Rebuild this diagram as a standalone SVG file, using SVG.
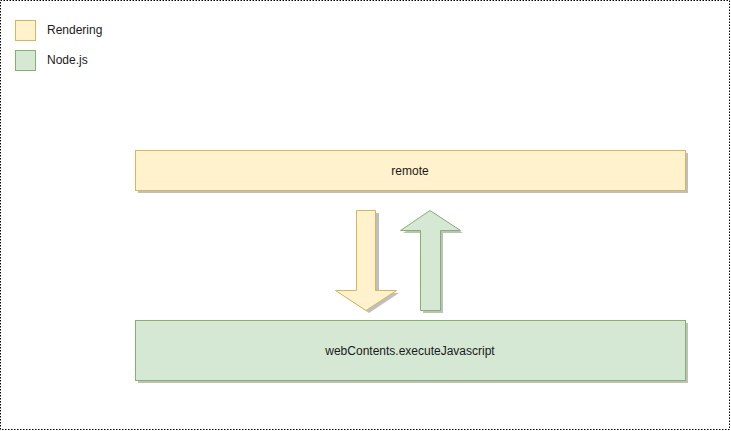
<svg xmlns="http://www.w3.org/2000/svg" width="731" height="431" viewBox="0 0 731 431">
<style>
.y{fill:#fff2cc;stroke:#d6b656;stroke-width:1}
.g{fill:#d5e8d4;stroke:#82b366;stroke-width:1}
.sh{fill:#000;opacity:0.25}
text{font-family:"Liberation Sans",Arial,sans-serif;font-size:12px;fill:#1a1a1a}
.c{text-anchor:middle}
</style>
<rect x="0.5" y="0.5" width="729" height="429" fill="#fff" stroke="#000" stroke-width="1" stroke-dasharray="1.5,1.5"/>
<g id="legend-rendering">
<rect class="y" x="15.5" y="20.5" width="20" height="20"/>
<text x="47" y="34">Rendering</text>
</g>
<g id="legend-node">
<rect class="g" x="15.5" y="50.5" width="20" height="20"/>
<text x="47" y="64">Node.js</text>
</g>
<g id="remote">
<rect class="sh" x="138" y="153" width="550" height="40"/>
<rect class="y" x="135.5" y="150.5" width="550" height="40"/>
<text class="c" x="410" y="175">remote</text>
</g>
<g id="webcontents">
<rect class="sh" x="138" y="323" width="550" height="60"/>
<rect class="g" x="135.5" y="320.5" width="550" height="60"/>
<text class="c" x="410" y="355">webContents.executeJavascript</text>
</g>
<g id="connectors">
<g id="arrow-down">
<path class="sh" d="M359,213 L379,213 L379,293 L399,293 L369,313 L339,293 L359,293 Z"/>
<path class="y" d="M356.5,210.5 L375.5,210.5 L375.5,290.5 L396.5,290.5 L366,310.5 L335.5,290.5 L356.5,290.5 Z"/>
</g>
<g id="arrow-up">
<path class="sh" d="M433,213 L463,233 L443,233 L443,313 L423,313 L423,233 L403,233 Z"/>
<path class="g" d="M430,210.5 L460.5,230.5 L440.5,230.5 L440.5,310.5 L420.5,310.5 L420.5,230.5 L400.5,230.5 Z"/>
</g>
</g>
</svg>
